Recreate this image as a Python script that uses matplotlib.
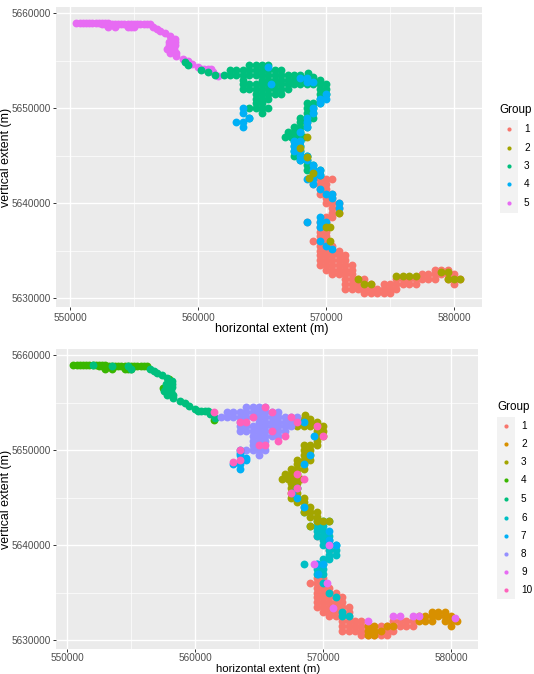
import matplotlib
matplotlib.use("Agg")
import matplotlib.pyplot as plt
from matplotlib.patches import Rectangle
from matplotlib.ticker import FixedLocator, FormatStrFormatter

plt.rcParams["font.family"] = ["Liberation Sans", "DejaVu Sans"]

W, H = 534, 674

x_ticks = [550000, 560000, 570000, 580000]
y_ticks = [5630000, 5640000, 5650000, 5660000]
x_minor = [555000, 565000, 575000]
y_minor = [5635000, 5645000, 5655000]

# river stretches, northing in km -> eastings in km
west_band = {
    5659.0: [550.5, 550.75, 551, 551.25, 551.5, 551.75, 552, 552.25, 552.5, 552.75, 553],
    5658.8: [552.5, 552.75, 553, 553.25, 553.5, 553.75, 554, 554.25, 554.5, 554.75,
             555, 555.25, 555.5, 555.75, 556, 556.25],
    5658.5: [553, 553.5, 554.5, 554.75, 555],
}
descent = {
    5658.5: [556.5], 5658.3: [556.8], 5658.1: [557], 5657.9: [557.4], 5657.6: [557.8],
    5657.3: [558.2], 5657.0: [557.7, 558.2], 5656.6: [557.7, 558.2],
    5656.2: [557.6, 558.1], 5655.8: [557.8, 558.3], 5655.5: [558.3],
    5655.2: [558.8], 5654.9: [559.2], 5654.6: [559.5], 5654.3: [560],
    5654.1: [560.25, 560.5, 560.75, 561], 5653.8: [561.2], 5653.4: [561.6],
}
upper_mass = {
    5654.5: [564, 564.5, 565, 565.5],
    5654.0: [562.5, 563, 563.5, 564, 564.5, 565, 565.5, 566, 566.5],
    5653.5: [562, 562.5, 563, 563.5, 564, 564.5, 565, 565.5, 566, 566.5, 567, 567.5, 568],
    5653.0: [563.5, 565, 565.5, 566, 566.5, 567, 567.5],
    5652.5: [563.5, 564, 564.5, 565, 565.5, 566, 566.5, 567, 567.5],
    5652.0: [563.5, 564, 564.5, 565, 565.5, 566, 566.5, 567],
    5651.5: [564.5, 565, 565.5, 566, 566.5],
    5651.0: [564.5, 565, 565.5],
    5650.5: [564.5, 565],
    5650.0: [564, 564.5, 565, 565.5],
    5649.5: [565],
}
tail = {
    5650.0: [563.5], 5649.5: [563.5], 5649.0: [564],
    5648.5: [563, 563.5], 5648.0: [563.5],
}
limb = {
    5653.7: [568.6], 5653.3: [568.5, 569], 5653.0: [568, 568.5, 569, 569.5],
    5652.5: [568, 568.5, 569, 569.5, 570], 5652.0: [569.5, 570],
    5651.5: [569.5, 570], 5651.0: [569.5], 5650.5: [568.5, 569, 569.5],
    5650.0: [568.5, 569], 5649.5: [568.5, 569], 5649.0: [568, 568.5, 569],
    5648.5: [568, 568.5], 5648.0: [567.5, 568, 568.5],
    5647.5: [567, 567.5, 568], 5647.0: [566.8, 567.3, 567.8, 568.3],
    5646.5: [567.5, 568], 5646.0: [567.5, 568], 5645.5: [567.5, 568],
    5645.0: [567.5, 568, 568.5], 5644.5: [568, 568.5], 5644.0: [568.5, 569],
    5643.5: [568.5, 569, 569.5], 5643.0: [569, 569.5],
}
mid = {
    5642.5: [569.5, 570, 570.5], 5642.0: [569, 569.5, 570],
    5641.5: [569.5, 570], 5641.0: [569.5, 570, 570.5], 5640.5: [570, 570.5],
    5640.0: [570, 570.5, 571], 5639.5: [570.5, 571], 5639.0: [570.5, 571],
    5638.5: [570, 570.5], 5638.0: [568.5, 569.5, 570],
    5637.5: [569.5, 570], 5637.0: [569.5, 570],
}
low_blob = {
    5636.5: [569.5, 570], 5636.0: [569, 569.5, 570],
    5635.5: [569.5, 570, 570.5], 5635.0: [569.5, 570, 570.5, 571],
    5634.5: [569.5, 570, 570.5, 571, 571.5], 5634.0: [569.5, 570, 570.5, 571, 571.5],
    5633.5: [569.5, 570, 570.5, 571, 571.5, 572], 5633.0: [570, 570.5, 571, 571.5, 572],
    5632.5: [570.5, 571, 571.5, 572],
}
curve = {
    5632.0: [571.5, 572, 572.5, 573],
    5631.5: [571.5, 572, 572.5, 573, 573.5],
    5631.0: [571.5, 572, 572.5, 573, 573.5, 574, 574.5, 575, 575.5],
    5630.5: [573, 573.5, 574, 574.5, 575],
}
east_near = {
    5631.5: [574.5, 575, 575.5, 576, 576.5, 577],
    5632.0: [575.5, 576, 576.5, 577],
}
east_far = {
    5632.0: [577.5, 578, 578.5, 579.5, 580, 580.5],
    5632.5: [577.5, 578, 578.5, 579, 579.5, 580],
    5633.0: [578.5, 579, 579.5],
    5631.5: [580],
}

# upper panel overlays
top_green_dots = {
    5654.8: [559], 5654.5: [559.2], 5654.0: [560.2], 5653.8: [560.8], 5653.5: [561.3],
    5649.0: [564],
}
top_blue_dots = {
    5654.3: [565.5], 5653.2: [568, 568.5], 5652.7: [568.5, 569], 5652.5: [565.7],
    5651.5: [570], 5651.0: [569.5, 570], 5650.5: [569.5], 5650.0: [569],
    5649.5: [569], 5649.0: [568.5], 5648.5: [568.5], 5648.0: [568.5],
    5647.5: [568], 5646.5: [567.5, 568], 5646.0: [567.5, 568], 5645.5: [567.5, 568],
    5645.0: [568, 568.5], 5644.5: [568, 568.5], 5644.0: [569], 5643.5: [569, 569.5],
    5643.0: [569, 569.5], 5642.5: [568.5, 569], 5642.0: [569], 5641.5: [569.5],
    5641.0: [570, 570.5], 5640.5: [570.5], 5640.0: [571], 5639.5: [571],
    5638.5: [569.5], 5638.0: [568.5, 569.5, 570], 5637.5: [569.5],
    5636.0: [569.5], 5635.5: [570], 5635.2: [570.5],
}
top_olive_dots = {
    5647.0: [568.5], 5645.8: [568], 5644.8: [568.5], 5643.2: [569], 5642.6: [568.7],
    5639.0: [571], 5637.5: [570, 570.3], 5636.0: [570.3],
    5632.7: [579, 579.5],
    5632.3: [575.5, 576, 576.5, 577],
    5632.0: [572.5, 579.5, 580, 580.5],
    5631.5: [573, 573.5],
}

# lower panel overlays
low_orange_dots = {
    5631.5: [573.5, 574, 575, 575.5], 5631.0: [573.5, 574, 574.5], 5630.5: [573.5, 574],
}
low_salmon_dots = {5641.0: [569.5], 5639.5: [570.5]}
low_olive_top = {5642.5: [569.5, 570, 570.5], 5642.0: [569]}
low_emerald_dots = {5659.0: [552], 5658.8: [553.5, 554.75], 5658.5: [555]}
low_green_dots = {5657.5: [558], 5656.5: [557.5], 5653.2: [561.5]}
low_teal_dots = {
    5643.5: [568.5], 5641.8: [569.5], 5636.0: [570], 5635.0: [570.5],
    5634.5: [571], 5633.0: [571.5], 5632.5: [571.5, 572],
}
low_blue_dots = {
    5649.7: [563.5], 5649.2: [564], 5653.0: [568.5], 5651.5: [569.3], 5649.5: [569],
    5648.5: [568.5], 5646.0: [568], 5645.0: [568], 5645.5: [567.6], 5644.0: [568.5],
    5641.5: [570.5], 5640.5: [570.5], 5640.0: [571], 5638.0: [569.5, 570], 5637.0: [569.6],
}
low_violet_dots = {
    5640.0: [570.5], 5638.0: [569.3], 5636.0: [570.3], 5633.4: [570.8],
    5632.0: [573.5], 5632.5: [575.5, 576, 577, 577.5], 5632.3: [580.3],
}
low_pink_dots = {
    5654.5: [565.5], 5654.0: [561.5, 566], 5653.5: [564.5, 567.5], 5653.0: [563.5, 564, 568],
    5652.5: [569.5], 5652.0: [566], 5651.5: [567, 570], 5651.0: [566.5],
    5650.5: [565.5, 565], 5650.0: [563.5], 5649.0: [563.5], 5648.7: [563],
    5647.5: [568], 5647.0: [568.5], 5646.0: [568], 5645.5: [567.5],
}

groups_top = {
    1: [mid, low_blob, curve, east_near, east_far],
    2: [top_olive_dots],
    3: [upper_mass, limb, top_green_dots],
    4: [tail, top_blue_dots],
    5: [west_band, descent],
}
order_top = [1, 5, 3, 4, 2]

groups_low = {
    1: [low_blob, curve, east_near, low_salmon_dots],
    2: [east_far, low_orange_dots],
    3: [limb, low_olive_top],
    4: [west_band, low_green_dots],
    5: [descent, low_emerald_dots],
    6: [mid, low_teal_dots],
    7: [tail, low_blue_dots],
    8: [upper_mass],
    9: [low_violet_dots],
    10: [low_pink_dots],
}
order_low = [1, 2, 6, 3, 4, 5, 8, 7, 9, 10]

colors_top = {1: "#F8766D", 2: "#A3A500", 3: "#00BF7D", 4: "#00B0F6", 5: "#E76BF3"}
colors_low = {1: "#F8766D", 2: "#D89000", 3: "#A3A500", 4: "#39B600", 5: "#00BF7D",
              6: "#00BFC4", 7: "#00B0F6", 8: "#9590FF", 9: "#E76BF3", 10: "#FF62BC"}


def flatten(sections):
    xs = []
    ys = []
    for rows in sections:
        for north, easts in rows.items():
            for e in easts:
                xs.append(e * 1000)
                ys.append(north * 1000)
    return xs, ys


def panel(fig, box, xlim, ylim, groups, order, colors, xpad):
    left, top, right, bottom = box
    ax = fig.add_axes([left / W, 1 - bottom / H, (right - left) / W, (bottom - top) / H])
    ax.set_facecolor("#EBEBEB")
    for s in ax.spines.values():
        s.set_visible(False)
    ax.set_axisbelow(True)
    ax.xaxis.set_major_locator(FixedLocator(x_ticks))
    ax.yaxis.set_major_locator(FixedLocator(y_ticks))
    ax.xaxis.set_minor_locator(FixedLocator(x_minor))
    ax.yaxis.set_minor_locator(FixedLocator(y_minor))
    ax.xaxis.set_major_formatter(FormatStrFormatter("%d"))
    ax.yaxis.set_major_formatter(FormatStrFormatter("%d"))
    ax.grid(True, which="major", color="white", lw=1.0)
    ax.grid(True, which="minor", color="white", lw=0.5)
    ax.tick_params(which="major", length=2.5, width=0.7, color="#333333",
                   labelcolor="#4D4D4D", labelsize=7.2, pad=1.5)
    ax.tick_params(axis="x", which="major", pad=xpad)
    ax.tick_params(which="minor", length=0)
    for g in order:
        xs, ys = flatten(groups[g])
        ax.scatter(xs, ys, s=32, color=colors[g], linewidths=0)
    ax.set_xlim(xlim)
    ax.set_ylim(ylim)
    return ax


fig = plt.figure(figsize=(W / 100, H / 100), dpi=100, facecolor="white")

panel(fig, (56, 7, 482, 307), (548906, 582190), (5629053, 5660632), groups_top, order_top, colors_top, 1.5)
panel(fig, (56, 349, 478, 649), (549140, 582110), (5629053, 5660632), groups_low, order_low, colors_low, 0.5)

# axis titles and legends sit on a full-figure layer in pixel units
over = fig.add_axes([0, 0, 1, 1])
over.set_xlim(0, W)
over.set_ylim(H, 0)
over.axis("off")
over.patch.set_alpha(0)

over.text(272, 329, "horizontal extent (m)", ha="center", va="center", fontsize=8.9, color="black")
over.text(268, 673.5, "horizontal extent (m)", ha="center", va="bottom", fontsize=8.2, color="black")
over.text(6, 157, "vertical extent (m)", rotation=90, ha="center", va="center", fontsize=8.9, color="black")
over.text(6, 499, "vertical extent (m)", rotation=90, ha="center", va="center", fontsize=8.9, color="black")


def legend(title_xy, key_x, key_top, rows_y, colors):
    over.text(title_xy[0], title_xy[1], "Group", ha="left", va="center", fontsize=8.4, color="black")
    step = rows_y[1] - rows_y[0]
    over.add_patch(Rectangle((key_x, key_top), 18, rows_y[-1] - rows_y[0] + step, color="#F2F2F2", lw=0))
    for g, yy in zip(colors, rows_y):
        over.scatter([key_x + 9], [yy], s=9, color=colors[g], linewidths=0)
        over.text(key_x + 24, yy, str(g), ha="left", va="center", fontsize=7.2, color="black")


legend((499, 110), 500, 120, [129, 148, 166, 184, 203], colors_top)
legend((497, 407), 497, 417, [426, 444, 462, 480, 499, 518, 536, 554, 572, 590], colors_low)

plt.savefig("out.png", dpi=100)
